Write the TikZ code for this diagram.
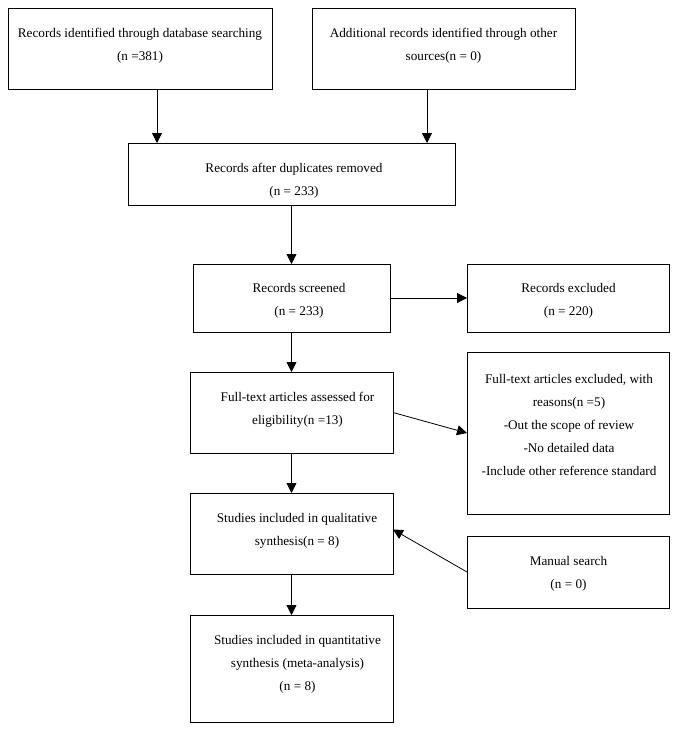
\documentclass[tikz,border=0pt]{standalone}
\usepackage{fontspec}
\setmainfont{Liberation Serif}
\usetikzlibrary{arrows.meta}
\begin{document}
\begin{tikzpicture}[x=1pt,y=-1pt,
  box/.style={draw=black, line width=0.8pt, inner sep=0pt, outer sep=0pt, rectangle},
  txt/.style={align=center, inner sep=0pt, yshift=-2pt, font=\fontsize{13.2pt}{23pt}\selectfont},
  arr/.style={line width=0.8pt, -{Triangle[length=10pt,width=10pt]}}]
\useasboundingbox (0,0) rectangle (678,731);
% boxes
\node[box, minimum width=264pt, minimum height=81pt] (A) at (140,48.5) {};
\node[box, minimum width=263pt, minimum height=81pt] (B) at (443.5,48.5) {};
\node[box, minimum width=327pt, minimum height=62pt] (C) at (291.5,174) {};
\node[box, minimum width=197pt, minimum height=68pt] (D) at (291.5,298) {};
\node[box, minimum width=202pt, minimum height=68pt] (E) at (568,298) {};
\node[box, minimum width=203pt, minimum height=81pt] (F) at (291.5,412.5) {};
\node[box, minimum width=202pt, minimum height=162pt] (G) at (568,433) {};
\node[box, minimum width=203pt, minimum height=81pt] (H) at (291.5,533.5) {};
\node[box, minimum width=202pt, minimum height=72pt] (I) at (568,572) {};
\node[box, minimum width=203pt, minimum height=107pt] (J) at (291.5,668.5) {};
% texts
\node[txt] (At) at (140,44) {Records identified through database searching\\(n =381)};
\node[txt] (Bt) at (443.5,44) {Additional records identified through other\\sources(n = 0)};
\node[txt] (Ct) at (294,179) {Records after duplicates removed\\(n = 233)};
\node[txt] (Dt) at (299,299) {Records screened\\(n = 233)};
\node[txt] (Et) at (568.5,299) {Records excluded\\(n = 220)};
\node[txt] (Ft) at (297.5,407.5) {Full-text articles assessed for\\eligibility(n =13)};
\node[txt] (Gt) at (569,423) {Full-text articles excluded, with\\reasons(n =5)\\-Out the scope of review\\-No detailed data\\-Include other reference standard};
\node[txt] (Ht) at (297,529) {Studies included in qualitative\\synthesis(n = 8)};
\node[txt] (It) at (568.5,571.5) {Manual search\\(n = 0)};
\node[txt] (Jt) at (297.5,662) {Studies included in quantitative\\synthesis (meta-analysis)\\(n = 8)};
% connectors
\draw[arr] (157,0 |- A.south) -- (157,0 |- C.north);
\draw[arr] (427,0 |- B.south) -- (427,0 |- C.north);
\draw[arr] (C) -- (D);
\draw[arr] (D) -- (E);
\draw[arr] (D) -- (F);
\draw[arr] (F.east) -- (G.west);
\draw[arr] (F) -- (H);
\draw[arr] (I.west) -- ([yshift=4pt]H.east);
\draw[arr] (H) -- (J);
\end{tikzpicture}
\end{document}
